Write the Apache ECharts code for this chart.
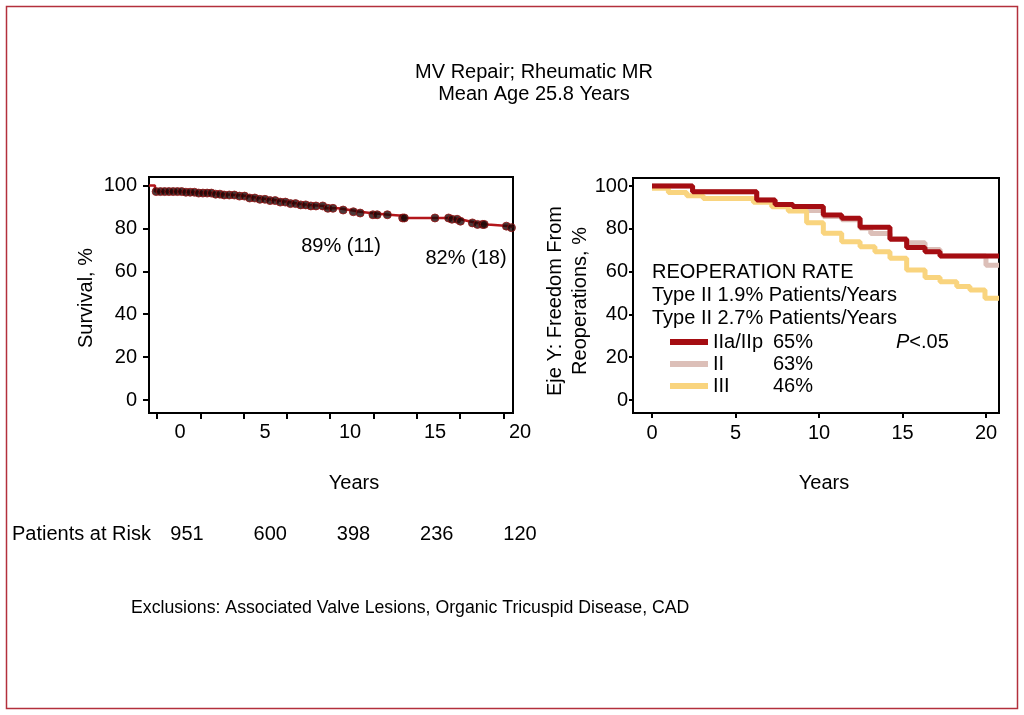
<!DOCTYPE html>
<html>
<head>
<meta charset="utf-8">
<script src="https://cdn.jsdelivr.net/npm/echarts@6/dist/echarts.min.js"></script>
<style>
html,body{margin:0;padding:0;background:#fff;}
#c{width:1024px;height:715px;}
</style>
</head>
<body>
<div id="c"></div>
<script>
// ---- Data ----
// Left: overall survival (Kaplan-Meier step curve), years vs %
const survTimes  = [-1.82,-1.47,0.2,1.0,1.9,2.6,3.3,4.0,4.6,5.2,5.8,6.4,6.9,7.6,8.5,9.3,10.0,10.6,11.2,12.3,13.1,15.9,16.5,17.0,17.5,18.1,19.5,19.59];
const survValues = [100,97.2,96.9,96.5,96.0,95.6,95.1,94.2,93.6,93.0,92.3,91.6,91.0,90.5,89.4,88.6,87.8,87.2,86.4,85.9,84.9,84.3,83.4,82.6,81.9,81.1,80.4,80.4];
// censored observations (years)
const censorTimes = [-1.4,-1.15,-0.9,-0.65,-0.4,-0.15,0.1,0.35,0.6,0.85,1.1,1.35,1.6,1.85,2.1,2.35,2.6,2.9,3.2,3.5,3.8,4.1,4.4,4.7,5.0,5.3,5.6,5.9,6.2,6.5,6.8,7.1,7.4,7.7,8.0,8.4,8.7,9.0,9.6,10.2,10.6,11.35,11.6,12.2,13.1,13.2,15.0,15.8,16.0,16.3,16.5,17.2,17.5,17.8,17.9,19.2,19.5];
const riskYears = [0,5,10,15,20];
const patientsAtRisk = [951,600,398,236,120];

// Right: freedom from reoperation by group
const reopGroups = ['IIa/IIp','II','III'];
const reopFinal  = ['65%','63%','46%'];
const redTimes  = [0,2.43,6.27,7.37,8.44,10.26,11.36,12.46,14.25,15.25,16.35,17.25,20.78];
const redValues = [100,97.3,93.5,91.4,90.4,86.4,84.9,80.7,75.1,71.3,69.3,67.3,67.3];
const pinkTimes  = [0,2.43,6.27,7.37,8.44,9.26,10.26,11.36,12.46,13.1,14.25,15.25,16.35,17.25,20.0,20.78];
const pinkValues = [100,97.3,93.5,91.4,90.4,88.6,85.8,84.2,80.3,77.8,75.5,73.5,70.3,67.3,63.0,63.0];
const yellowTimes  = [0,0.98,2.08,3.07,6.07,7.17,8.16,9.26,10.26,11.36,12.46,13.35,14.25,15.25,16.35,17.25,18.25,19.04,19.94,20.78];
const yellowValues = [98.9,97.0,95.5,94.2,92.4,90.3,88.3,82.8,77.9,74.0,71.6,69.3,66.2,60.7,57.3,55.3,53.0,51.4,47.5,47.5];

// ---- helpers ----
function pairs(t, v){ return t.map((x,i)=>[x, v[i]]); }
function stepAt(t, times, values){
  let v = values[0];
  for (let i=0;i<times.length;i++){ if (times[i] <= t) v = values[i]; }
  return v;
}
const FONT = "'Liberation Sans', Arial, sans-serif";
const RED = '#a50d12', PINK = '#dcbfb8', YELLOW = '#f9d47e';

const chart = echarts.init(document.getElementById('c'), null, {renderer:'canvas'});
const hidden = {axisLine:{show:false}, axisTick:{show:false}, axisLabel:{show:false}, splitLine:{show:false}};
const tickStyle = {color:'#000', width:2};
const lbl = (margin, extra) => Object.assign({show:true, color:'#000', fontSize:20, margin:margin, fontFamily:FONT}, extra||{});

function txt(x, y, text, opts){
  return Object.assign({type:'text', x:x, y:y, silent:true,
    style:Object.assign({text:text, x:0, y:0, fill:'#000', font:'20px ' + FONT, align:'left', verticalAlign:'middle'}, (opts&&opts.style)||{})},
    opts && opts.rotation !== undefined ? {rotation: opts.rotation} : {});
}

const option = {
  animation:false,
  backgroundColor:'#fff',
  textStyle:{fontFamily:FONT},
  grid:[
    {left:149, top:177, width:364, height:236, show:true, borderColor:'#000', borderWidth:2, backgroundColor:'transparent'}, // 0 left box/data
    {left:157, top:177, width:346.4, height:236, show:false},   // 1 left x ticks
    {left:149, top:185.6, width:364, height:214.4, show:false}, // 2 left y ticks/labels
    {left:180, top:177, width:340, height:236, show:false},     // 3 left x labels
    {left:187, top:400, width:333, height:114, show:false},     // 4 patients at risk
    {left:633, top:178, width:366, height:235, show:true, borderColor:'#000', borderWidth:2, backgroundColor:'transparent'}, // 5 right box/data
    {left:652, top:178, width:334, height:235, show:false},     // 6 right x ticks/labels
    {left:633, top:186, width:366, height:214, show:false}      // 7 right y ticks/labels
  ],
  xAxis:[
    Object.assign({type:'value', gridIndex:0, min:-1.82, max:19.59}, hidden),
    Object.assign({type:'value', gridIndex:1, min:0, max:8, interval:1, position:'bottom'}, hidden,
      {axisTick:{show:true, length:6, lineStyle:tickStyle}}),
    Object.assign({type:'value', gridIndex:2, min:0, max:1}, hidden),
    Object.assign({type:'value', gridIndex:3, min:0, max:20, interval:5, position:'bottom'}, hidden,
      {axisLabel:lbl(9)}),
    Object.assign({type:'value', gridIndex:4, min:0, max:20, interval:5, position:'bottom'}, hidden,
      {axisLabel:lbl(10, {formatter:function(v){ const i = riskYears.indexOf(v); return i>=0 ? String(patientsAtRisk[i]) : ''; }})}),
    Object.assign({type:'value', gridIndex:5, min:-1.138, max:20.78}, hidden),
    Object.assign({type:'value', gridIndex:6, min:0, max:20, interval:5, position:'bottom'}, hidden,
      {axisTick:{show:true, length:5, lineStyle:tickStyle}, axisLabel:lbl(10)}),
    Object.assign({type:'value', gridIndex:7, min:0, max:1}, hidden)
  ],
  yAxis:[
    Object.assign({type:'value', gridIndex:0, min:-6, max:104}, hidden),
    Object.assign({type:'value', gridIndex:1, min:0, max:1}, hidden),
    Object.assign({type:'value', gridIndex:2, min:0, max:100, interval:20, position:'left'}, hidden,
      {axisTick:{show:true, length:6, lineStyle:tickStyle}, axisLabel:lbl(12)}),
    Object.assign({type:'value', gridIndex:3, min:0, max:1}, hidden),
    Object.assign({type:'value', gridIndex:4, min:0, max:1}, hidden),
    Object.assign({type:'value', gridIndex:5, min:-6.07, max:103.74}, hidden),
    Object.assign({type:'value', gridIndex:6, min:0, max:1}, hidden),
    Object.assign({type:'value', gridIndex:7, min:0, max:100, interval:20, position:'left'}, hidden,
      {axisTick:{show:true, length:4, lineStyle:tickStyle}, axisLabel:lbl(5)})
  ],
  legend:{
    left:670, top:332, padding:0, orient:'vertical', itemGap:2, itemWidth:38, itemHeight:6, icon:'rect',
    data:reopGroups, selectedMode:false,
    textStyle:{fontSize:20, color:'#000', fontFamily:FONT, lineHeight:20,
      rich:{a:{width:60, fontSize:20, fontFamily:FONT, color:'#000'}, b:{fontSize:20, fontFamily:FONT, color:'#000'}}},
    formatter:function(name){ const i = reopGroups.indexOf(name); return '{a|' + name + '}{b|' + reopFinal[i] + '}'; }
  },
  series:[
    {type:'line', name:'survival', xAxisIndex:0, yAxisIndex:0, step:'end', symbol:'none',
      data:pairs(survTimes, survValues), lineStyle:{color:'#b3161b', width:2.5}, z:3},
    {type:'scatter', name:'censored', xAxisIndex:0, yAxisIndex:0, symbolSize:8,
      data:censorTimes.map(t=>[t, stepAt(t, survTimes, survValues)]),
      itemStyle:{color:'#1e0808', borderColor:'#9a1414', borderWidth:1}, z:4},
    {type:'line', name:reopGroups[1], xAxisIndex:5, yAxisIndex:5, step:'end', symbol:'none',
      data:pairs(pinkTimes, pinkValues), lineStyle:{color:PINK, width:5}, itemStyle:{color:PINK}, z:2},
    {type:'line', name:reopGroups[2], xAxisIndex:5, yAxisIndex:5, step:'end', symbol:'none',
      data:pairs(yellowTimes, yellowValues), lineStyle:{color:YELLOW, width:5}, itemStyle:{color:YELLOW}, z:3},
    {type:'line', name:reopGroups[0], xAxisIndex:5, yAxisIndex:5, step:'end', symbol:'none',
      data:pairs(redTimes, redValues), lineStyle:{color:RED, width:5}, itemStyle:{color:RED}, z:4}
  ],
  graphic:[
    {type:'rect', silent:true, shape:{x:6.5, y:6.5, width:1011, height:702}, style:{fill:'none', stroke:'#b3303c', lineWidth:1.5}},
    txt(534, 72, 'MV Repair; Rheumatic MR', {style:{align:'center'}}),
    txt(534, 94, 'Mean Age 25.8 Years', {style:{align:'center'}}),
    txt(86, 298, 'Survival, %', {rotation:Math.PI/2, style:{align:'center'}}),
    txt(555, 301, 'Eje Y: Freedom From', {rotation:Math.PI/2, style:{align:'center'}}),
    txt(580, 301, 'Reoperations, %', {rotation:Math.PI/2, style:{align:'center'}}),
    txt(354, 483, 'Years', {style:{align:'center'}}),
    txt(824, 483, 'Years', {style:{align:'center'}}),
    txt(12, 534, 'Patients at Risk'),
    txt(131, 608, 'Exclusions: Associated Valve Lesions, Organic Tricuspid Disease, CAD', {style:{font:'17.7px ' + FONT}}),
    txt(341, 246, '89% (11)', {style:{align:'center'}}),
    txt(466, 258, '82% (18)', {style:{align:'center'}}),
    txt(652, 272, 'REOPERATION RATE'),
    txt(652, 295, 'Type II 1.9% Patients/Years'),
    txt(652, 318, 'Type II 2.7% Patients/Years'),
    {type:'text', x:896, y:342, silent:true, style:{text:'{i|P}<.05', x:0, y:0, fill:'#000', font:'20px ' + FONT,
      align:'left', verticalAlign:'middle', rich:{i:{fontStyle:'italic', fontSize:20, fontFamily:FONT, fill:'#000'}}}}
  ]
};
chart.setOption(option);
</script>
</body>
</html>
